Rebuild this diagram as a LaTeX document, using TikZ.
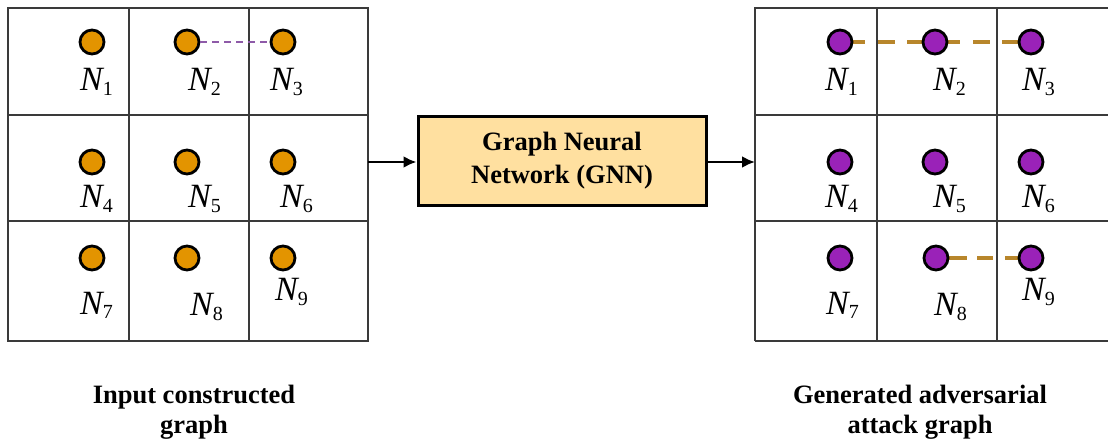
\documentclass[tikz,border=0pt]{standalone}
\usepackage{fontspec}
\setmainfont{Liberation Serif}
\usetikzlibrary{arrows.meta,backgrounds}
\definecolor{gridc}{HTML}{3A3A3A}
\definecolor{nodeor}{HTML}{E39400}
\definecolor{nodepu}{HTML}{9A22B8}
\definecolor{edgebr}{HTML}{B8862B}
\definecolor{edgepu}{HTML}{8E5AA8}
\definecolor{boxfill}{HTML}{FFE0A0}
\newcommand{\NNlab}[1]{\fontsize{34}{34}\selectfont\textit{N}\kern-1.5pt\raisebox{-5pt}{\fontsize{20}{20}\selectfont #1}}
\tikzset{
  gridline/.style={draw=gridc, line width=2.2pt},
  vtx/.style={circle, draw=black, line width=2.8pt, minimum size=24pt, inner sep=0pt},
  vtxor/.style={vtx, fill=nodeor},
  vtxpu/.style={vtx, fill=nodepu},
  nlab/.style={anchor=base west, inner sep=0pt},
  edgeL/.style={draw=edgepu, line width=2pt, dash pattern=on 7pt off 5pt},
  edgeR/.style={draw=edgebr, line width=3.2pt, dash pattern=on 25pt off 13pt on 17pt off 12pt on 100pt},
  edgeRs/.style={draw=edgebr, line width=3.2pt, dash pattern=on 31pt off 10pt on 16pt off 12pt on 100pt},
  conn/.style={draw=black, line width=2.6pt, -{Latex[length=13pt,width=12pt]}},
  gnnbox/.style={draw=black, line width=3pt, fill=boxfill, minimum width=288pt, minimum height=89pt, align=center, font=\fontsize{26.5}{33}\selectfont\bfseries},
  caption/.style={align=center, inner sep=0pt, font=\fontsize{26.5}{30}\selectfont\bfseries}
}
\begin{document}
\begin{tikzpicture}[x=1pt,y=-1pt]
\useasboundingbox (0,0) rectangle (1108,446);
% left grid
\draw[gridline] (8,8) rectangle (368,341);
\draw[gridline] (129,8) -- (129,341) (249,8) -- (249,341);
\draw[gridline] (8,115) -- (368,115) (8,221) -- (368,221);
% right grid
\draw[gridline] (755,341) -- (755,8) -- (1110,8);
\draw[gridline] (755,341) -- (1110,341);
\draw[gridline] (877,8) -- (877,341) (997,8) -- (997,341);
\draw[gridline] (755,115) -- (1110,115) (755,221) -- (1110,221);
% left vertices
\node[vtxor] (a1) at (92,42) {};
\node[vtxor] (a2) at (187,42) {};
\node[vtxor] (a3) at (283,42) {};
\node[vtxor] (a4) at (92,162) {};
\node[vtxor] (a5) at (187,162) {};
\node[vtxor] (a6) at (283,162) {};
\node[vtxor] (a7) at (92,258) {};
\node[vtxor] (a8) at (187,258) {};
\node[vtxor] (a9) at (283,258) {};
\draw[edgeL] (a2) -- (a3);
% left labels
\node[nlab] (la1) at (80,91) {\NNlab{1}};
\node[nlab] (la2) at (188,91) {\NNlab{2}};
\node[nlab] (la3) at (270,91) {\NNlab{3}};
\node[nlab] (la4) at (80,208) {\NNlab{4}};
\node[nlab] (la5) at (188,208) {\NNlab{5}};
\node[nlab] (la6) at (280,208) {\NNlab{6}};
\node[nlab] (la7) at (80,314) {\NNlab{7}};
\node[nlab] (la8) at (190,316) {\NNlab{8}};
\node[nlab] (la9) at (275,301) {\NNlab{9}};
% right vertices
\node[vtxpu] (b1) at (840,42) {};
\node[vtxpu] (b2) at (935,42) {};
\node[vtxpu] (b3) at (1031,42) {};
\node[vtxpu] (b4) at (840,162) {};
\node[vtxpu] (b5) at (935,162) {};
\node[vtxpu] (b6) at (1031,162) {};
\node[vtxpu] (b7) at (840,258) {};
\node[vtxpu] (b8) at (936,258) {};
\node[vtxpu] (b9) at (1031,258) {};
\begin{pgfonlayer}{background}
\draw[edgeR] (b1.center) -- (b2.center);
\draw[edgeR] (b2.center) -- (b3.center);
\draw[edgeRs] (b8.center) -- (b9.center);
\end{pgfonlayer}
% right labels
\node[nlab] (lb1) at (825,91) {\NNlab{1}};
\node[nlab] (lb2) at (933,91) {\NNlab{2}};
\node[nlab] (lb3) at (1022,91) {\NNlab{3}};
\node[nlab] (lb4) at (825,208) {\NNlab{4}};
\node[nlab] (lb5) at (933,208) {\NNlab{5}};
\node[nlab] (lb6) at (1022,208) {\NNlab{6}};
\node[nlab] (lb7) at (826,314) {\NNlab{7}};
\node[nlab] (lb8) at (934,316) {\NNlab{8}};
\node[nlab] (lb9) at (1022,301) {\NNlab{9}};
% GNN box
\node[gnnbox] (gnn) at (562,161) {Graph Neural\\Network (GNN)};
\coordinate (lgout) at (368,162);
\coordinate (rgin) at (755,162);
\draw[conn] (lgout) -- (gnn.west |- lgout);
\draw[conn] (gnn.east |- rgin) -- (rgin);
% captions
\node[caption] (capL) at (194,412) {Input constructed\\graph};
\node[caption] (capR) at (920,412) {Generated adversarial\\attack graph};
\end{tikzpicture}
\end{document}
